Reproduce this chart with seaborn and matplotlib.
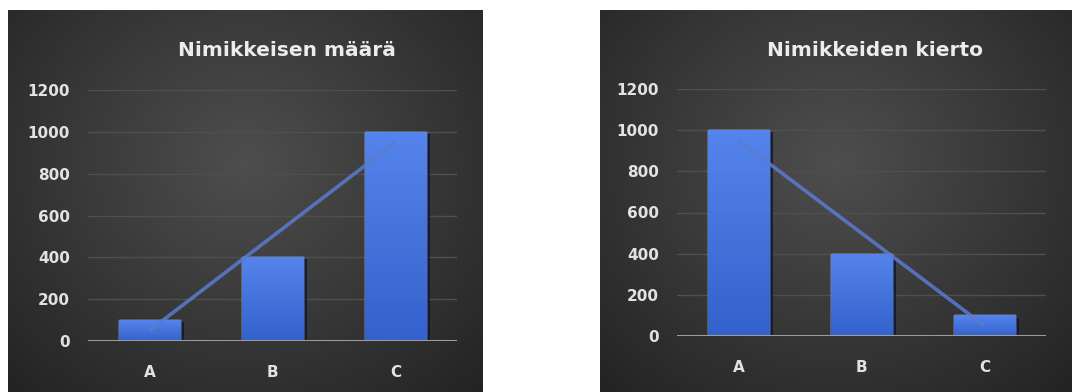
import numpy as np
import pandas as pd
import matplotlib
matplotlib.use("Agg")
import matplotlib.pyplot as plt
import matplotlib.patheffects as pe
import seaborn as sns

# ---- data ----
categories = ["A", "B", "C"]
maara_values = [100, 400, 1000]      # Nimikkeisen määrä
kierto_values = [1000, 400, 100]     # Nimikkeiden kierto
titles = ["Nimikkeisen määrä", "Nimikkeiden kierto"]
y_ticks = [0, 200, 400, 600, 800, 1000, 1200]

sns.set_theme(style="white")
plt.rcParams["font.family"] = ["DejaVu Sans"]

W, H = 1072, 392
fig = plt.figure(figsize=(W / 100, H / 100), dpi=100)
fig.patch.set_facecolor("white")

TEXT = "#e2e2e2"
GRID = "#4f4f4f"
AXIS = "#9c9c9c"
LINE = "#5a7bd0"


def px_rect(x0, y0, x1, y1):
    """pixel box (top-left origin) -> figure fraction rect"""
    return [x0 / W, 1 - y1 / H, (x1 - x0) / W, (y1 - y0) / H]


def panel_bg(x0, y0, x1, y1):
    bg = fig.add_axes(px_rect(x0, y0, x1, y1), zorder=0)
    ny, nx = 200, 250
    yy, xx = np.mgrid[0:1:ny * 1j, 0:1:nx * 1j]
    r = np.sqrt(((xx - 0.5) / 0.75) ** 2 + ((yy - 0.4) / 0.85) ** 2)
    r = np.clip(r, 0, 1)
    c_in = np.array([0x4e, 0x4e, 0x4e]) / 255
    c_out = np.array([0x22, 0x22, 0x22]) / 255
    img = c_in[None, None, :] * (1 - r[..., None]) + c_out[None, None, :] * r[..., None]
    bg.imshow(img, aspect="auto", extent=[0, 1, 0, 1], origin="upper")
    bg.set_axis_off()
    return bg


def gradient_bars(ax):
    top = np.array([0x55, 0x84, 0xec]) / 255
    bot = np.array([0x33, 0x62, 0xcc]) / 255
    t = np.linspace(0, 1, 64)[:, None, None]
    grad = top[None, None, :] * (1 - t) + bot[None, None, :] * t
    grad = np.repeat(grad, 2, axis=1)
    for p in list(ax.patches):
        x0, y0 = p.get_x(), p.get_y()
        w, h = p.get_width(), p.get_height()
        p.set_path_effects([pe.SimplePatchShadow(offset=(2.5, -1.5),
                                                 shadow_rgbFace="#0b1638",
                                                 alpha=0.8), pe.Normal()])
        im = ax.imshow(grad, extent=[x0, x0 + w, y0, y0 + h], aspect="auto",
                       origin="upper", zorder=p.get_zorder() + 0.1)
        im.set_clip_path(p)


def draw_chart(plot_px, values, title, title_xy):
    ax = fig.add_axes(px_rect(*plot_px), zorder=2)
    ax.patch.set_alpha(0)
    df = pd.DataFrame({"cat": categories, "val": values})
    sns.barplot(data=df, x="cat", y="val", color="#3a6ad6", width=0.5,
                saturation=1, ax=ax, zorder=3)
    gradient_bars(ax)
    # linear trend line
    sns.regplot(x=np.arange(len(values)), y=np.array(values, dtype=float),
                scatter=False, ci=None, truncate=True, ax=ax,
                line_kws={"color": LINE, "lw": 2.6, "zorder": 5,
                          "solid_capstyle": "butt", "alpha": 0.85})
    ax.set_xlim(-0.5, 2.5)
    ax.set_ylim(0, 1200)
    ax.set_yticks(y_ticks)
    ax.set_yticklabels([str(v) for v in y_ticks])
    ax.set_xticks(range(len(categories)))
    ax.set_xticklabels(categories)
    for yv in y_ticks[1:]:
        ax.axhline(yv, color=GRID, lw=1.0, zorder=1)
    ax.axhline(0, color=AXIS, lw=2.2, zorder=6)
    for s in ax.spines.values():
        s.set_visible(False)
    ax.tick_params(axis="y", length=0, pad=13, labelsize=11,
                   labelcolor=TEXT)
    ax.tick_params(axis="x", length=0, pad=17, labelsize=11,
                   labelcolor=TEXT)
    for lab in ax.get_xticklabels() + ax.get_yticklabels():
        lab.set_fontweight("bold")
    ax.set_xlabel("")
    ax.set_ylabel("")
    fig.text(title_xy[0] / W, 1 - title_xy[1] / H, title, ha="center",
             va="center", color="#ececec", fontsize=14.5, fontweight="bold")
    return ax


panel_bg(8, 10, 482, 392)
panel_bg(600, 10, 1072, 392)

draw_chart((88, 90, 457, 341), maara_values, titles[0], (287, 51))
draw_chart((677, 89, 1046, 336), kierto_values, titles[1], (875, 51))

fig.savefig("out.png", dpi=100, facecolor=fig.get_facecolor())
